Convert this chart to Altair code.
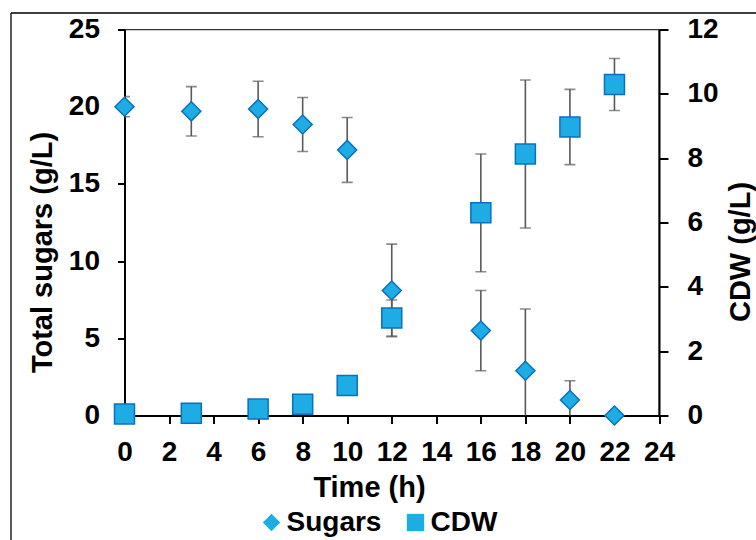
import altair as alt
import pandas as pd

# ---- data ----
time_h = [0, 3, 6, 8, 10, 12, 16, 18, 20, 22]
sugars = [20.0, 19.7, 19.85, 18.85, 17.2, 8.1, 5.5, 2.9, 1.0, 0.0]
sugars_err = [0.65, 1.6, 1.8, 1.75, 2.1, 3.0, 2.6, 4.0, 1.25, 0.0]
cdw = [0.05, 0.07, 0.2, 0.35, 0.93, 3.03, 6.3, 8.13, 8.97, 10.29]
cdw_err = [0.0, 0.0, 0.0, 0.0, 0.0, 0.56, 1.83, 2.3, 1.17, 0.81]
x_ticks = [0, 2, 4, 6, 8, 10, 12, 14, 16, 18, 20, 22, 24]
sugar_ticks = [0, 5, 10, 15, 20, 25]
cdw_ticks = [0, 2, 4, 6, 8, 10, 12]
series_names = ["Sugars", "CDW"]
series_shapes = ["diamond", "square"]

FILL = "#1DADE4"
EDGE = "#0A70BE"
ERR = "#5A5A5A"
FONT = "Liberation Sans"


def frame(vals, errs, name):
    return pd.DataFrame({
        "t": time_h,
        "v": vals,
        "lo": [v - e for v, e in zip(vals, errs)],
        "hi": [v + e for v, e in zip(vals, errs)],
        "err": errs,
        "series": name,
    })


sug = frame(sugars, sugars_err, "Sugars")
cd = frame(cdw, cdw_err, "CDW")

x_enc = alt.X(
    "t:Q",
    scale=alt.Scale(domain=[0, 24], nice=False, zero=False),
    axis=alt.Axis(
        values=x_ticks, title="Time (h)", grid=False,
        tickSize=8, labelPadding=15, labelOverlap=False, labelFlush=False,
        titleX=244.5, titleY=81, titleAlign="center", titleAngle=0,
        titleBaseline="alphabetic",
    ),
)

shape_enc = alt.Shape(
    "series:N",
    scale=alt.Scale(domain=series_names, range=series_shapes),
    legend=alt.Legend(
        title=None, orient="none", direction="horizontal",
        legendX=133, legendY=479, padding=0,
        labelFont=FONT, labelFontSize=28, labelFontWeight="bold", labelColor="black",
        symbolSize=300, symbolFillColor=FILL, symbolStrokeColor=EDGE,
        symbolStrokeWidth=1.5, labelOffset=1, columnPadding=20,
    ),
)


def group(df, domain, axis):
    y_scale = alt.Scale(domain=domain, nice=False, zero=True)
    e = alt.Chart(df).transform_filter("datum.err > 0")
    rule = e.mark_rule(color=ERR, strokeWidth=1.6, clip=True).encode(
        x=x_enc, y=alt.Y("lo:Q", scale=y_scale, axis=axis), y2="hi:Q")
    cap_lo = e.mark_tick(color=ERR, orient="horizontal", size=11, thickness=1.6,
                         clip=True).encode(
        x=x_enc, y=alt.Y("lo:Q", scale=y_scale, axis=axis))
    cap_hi = e.mark_tick(color=ERR, orient="horizontal", size=11, thickness=1.6,
                         clip=True).encode(
        x=x_enc, y=alt.Y("hi:Q", scale=y_scale, axis=axis))
    return rule, cap_lo, cap_hi, y_scale


sug_axis = alt.Axis(
    values=sugar_ticks, title="Total sugars (g/L)", grid=False,
    tickSize=7, labelPadding=18, labelOverlap=False, labelFlush=False,
    titleX=-73, titleY=222.5, titleAngle=270, titleAlign="center",
    titleBaseline="alphabetic",
)
cdw_axis = alt.Axis(
    orient="right", values=cdw_ticks, title="CDW (g/L)", grid=False,
    tickSize=9, labelPadding=19, labelOverlap=False, labelFlush=False,
    titleX=90, titleY=222, titleAngle=270, titleAlign="center",
    titleBaseline="alphabetic",
)

s_rule, s_lo, s_hi, s_scale = group(sug, [0, 25], sug_axis)
s_pts = alt.Chart(sug).mark_point(
    filled=True, fill=FILL, stroke=EDGE, strokeWidth=1.5, size=361, opacity=1
).encode(x=x_enc, y=alt.Y("v:Q", scale=s_scale, axis=sug_axis), shape=shape_enc)

c_rule, c_lo, c_hi, c_scale = group(cd, [0, 12], cdw_axis)
c_pts = alt.Chart(cd).mark_point(
    filled=True, fill=FILL, stroke=EDGE, strokeWidth=1.5, size=400, opacity=1
).encode(x=x_enc, y=alt.Y("v:Q", scale=c_scale, axis=cdw_axis), shape=shape_enc)

left = alt.layer(s_rule, s_lo, s_hi, s_pts)
right = alt.layer(c_rule, c_lo, c_hi, c_pts)

# outer chart-area border (partly outside the window, as in the reference)
frame_top = alt.Chart(pd.DataFrame({"a": [0]})).mark_rule(color="black", strokeWidth=1.3).encode(
    x=alt.value(-113.5), x2=alt.value(700), y=alt.value(-16.5))
frame_left = alt.Chart(pd.DataFrame({"a": [0]})).mark_rule(color="black", strokeWidth=1.3).encode(
    x=alt.value(-113.5), y=alt.value(-16.5), y2=alt.value(600))

chart = alt.layer(left, right, frame_top, frame_left).resolve_scale(
    y="independent"
).properties(
    width=534.5, height=386,
    background="white",
    autosize=alt.AutoSizeParams(type="none"),
    padding={"left": 124.5, "top": 29.5, "right": 97, "bottom": 124.5},
).configure_view(
    stroke="#333333", strokeWidth=1.3
).configure_axis(
    labelFont=FONT, labelFontSize=28, labelFontWeight="bold", labelColor="black",
    titleFont=FONT, titleFontSize=29, titleFontWeight="bold", titleColor="black",
    domainColor="black", domainWidth=2, tickColor="black", tickWidth=2,
)

chart.save("out.html", embed_options={"renderer": "svg", "actions": False})
